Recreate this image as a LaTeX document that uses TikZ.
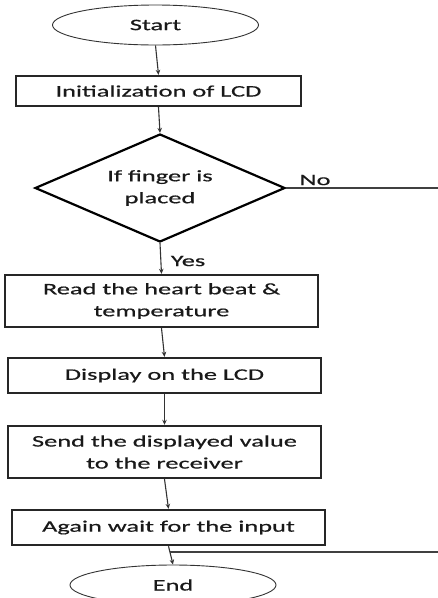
\documentclass[tikz,border=0pt]{standalone}
\usepackage{fontspec}
\setmainfont{Carlito}[FakeStretch=1.65,FakeBold=0.6]
\usetikzlibrary{shapes.geometric,arrows.meta}
\begin{document}
\begin{tikzpicture}[x=1pt,y=-1pt,
  every node/.style={font=\fontsize{16}{22}\selectfont, text=black!90},
  procbox/.style={draw=black!85, line width=2.4pt, rectangle, inner sep=0pt, minimum width=313pt, align=center},
  term/.style={draw=black!80, line width=0.9pt, ellipse, inner sep=0pt, minimum width=206pt, minimum height=40pt},
  decbox/.style={draw=black, line width=2.2pt, diamond, inner sep=0pt, minimum width=250pt, minimum height=108pt, aspect=2.3, align=center},
  flow/.style={draw=black!80, line width=1.1pt, -{Stealth[length=5pt,width=4.5pt]}},
  plain/.style={draw=black!75, line width=1.1pt}]
\useasboundingbox (0,0) rectangle (438,598);
\fill[white] (0,0) rectangle (438,598);
\node[term] (start) at (155.5,25) {Start};
\node[procbox, minimum height=30pt, minimum width=285pt] (init) at (158.5,91) {Initialization of LCD};
\node[decbox] (dec) at (160,188) {If finger is\\placed};
\node (no) at (315,180) {No};
\coordinate (noend) at (438,188);
\node (yes) at (188,261) {Yes};
\node[procbox, minimum height=52pt] (read) at (161.5,301) {Read the heart beat \&\\temperature};
\node[procbox, minimum height=35pt] (disp) at (164.5,375.5) {Display on the LCD};
\node[procbox, minimum height=52pt] (send) at (164.5,452) {Send the displayed value\\to the receiver};
\node[procbox, minimum height=35pt] (again) at (168.5,527.5) {Again wait for the input};
\node[term] (end) at (173,585) {End};
\coordinate (join) at (170,552);
\coordinate (back) at (438,552);
\draw[flow] (start.south) -- (init.north);
\draw[flow] (init.south) -- (dec.north);
\draw[plain] (dec.east) -- (noend);
\draw[flow] (dec.south) -- (read.north);
\draw[flow] (read.south) -- (disp.north);
\draw[flow] (disp.south) -- (send.north);
\draw[flow] (send.south) -- (again.north);
\draw[flow] (again.south) -- (end.north);
\draw[plain] (back) -- (join);
\end{tikzpicture}
\end{document}
